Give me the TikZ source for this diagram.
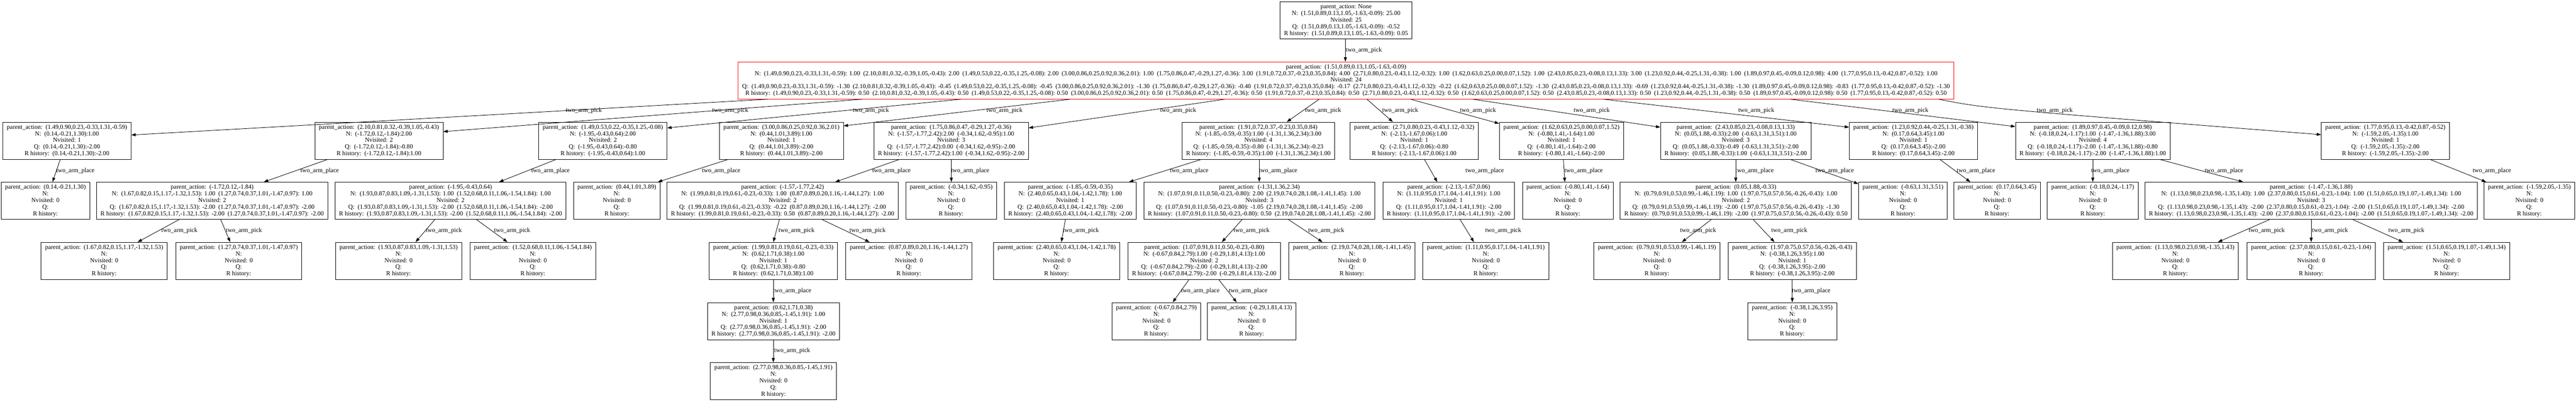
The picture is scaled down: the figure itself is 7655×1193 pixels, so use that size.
\documentclass[tikz,border=0pt]{standalone}
\usepackage{fontspec}
\setmainfont{Liberation Serif}
\usetikzlibrary{arrows.meta}
\newcommand\pa{parent\_action:~~}
\newcommand\emptynode[1]{\pa#1\\N:\\Nvisited: 0\\Q:\\R history:}
\newcommand\pkA{(1.49,0.90,0.23,-0.33,1.31,-0.59)}
\newcommand\pkB{(2.10,0.81,0.32,-0.39,1.05,-0.43)}
\newcommand\pkC{(1.49,0.53,0.22,-0.35,1.25,-0.08)}
\newcommand\pkD{(3.00,0.86,0.25,0.92,0.36,2.01)}
\newcommand\pkE{(1.75,0.86,0.47,-0.29,1.27,-0.36)}
\newcommand\pkF{(1.91,0.72,0.37,-0.23,0.35,0.84)}
\newcommand\pkG{(2.71,0.80,0.23,-0.43,1.12,-0.32)}
\newcommand\pkH{(1.62,0.63,0.25,0.00,0.07,1.52)}
\newcommand\pkI{(2.43,0.85,0.23,-0.08,0.13,1.33)}
\newcommand\pkJ{(1.23,0.92,0.44,-0.25,1.31,-0.38)}
\newcommand\pkK{(1.89,0.97,0.45,-0.09,0.12,0.98)}
\newcommand\pkL{(1.77,0.95,0.13,-0.42,0.87,-0.52)}
\newcommand\rootact{(1.51,0.89,0.13,1.05,-1.63,-0.09)}
\tikzset{
  tn/.style={draw, line width=1.3pt, align=center, font=\fontsize{18.5}{19.75}\selectfont,
    inner xsep=12pt, inner ysep=0pt, minimum height=110.5pt},
  rn/.style={tn, draw=red},
  edge/.style={line width=1.3pt, -{Triangle[length=13pt,width=9pt]}},
  lbl/.style={font=\fontsize{18.5}{19.75}\selectfont, inner sep=0pt},
}
\newcommand\elab[4]{\node[lbl] (#1) at (#2,#3) {two\_arm\_#4};}
\begin{document}
\begin{tikzpicture}[x=1pt,y=-1pt]
\useasboundingbox (0,0) rectangle (7655,1193);

% ---------- level 0 ----------
\node[tn] (R0) at (4000,60.5) {parent\_action: None\\N:~~\rootact: 25.00\\Nvisited: 25\\Q:~~\rootact: -0.52\\R history:~~\rootact: 0.05};

% ---------- level 1 ----------
\node[rn] (L1) at (4000,239) {\pa\rootact\\
N:~~\pkA: 1.00~~\pkB: 2.00~~\pkC: 2.00~~\pkD: 1.00~~\pkE: 3.00~~\pkF: 4.00~~\pkG: 1.00~~\pkH: 1.00~~\pkI: 3.00~~\pkJ: 1.00~~\pkK: 4.00~~\pkL: 1.00\\
Nvisited: 24\\
Q:~~\pkA: -1.30~~\pkB: -0.45~~\pkC: -0.45~~\pkD: -1.30~~\pkE: -0.40~~\pkF: -0.17~~\pkG: -0.22~~\pkH: -1.30~~\pkI: -0.69~~\pkJ: -1.30~~\pkK: -0.83~~\pkL: -1.30\\
R history:~~\pkA: 0.50~~\pkB: 0.50~~\pkC: 0.50~~\pkD: 0.50~~\pkE: 0.50~~\pkF: 0.50~~\pkG: 0.50~~\pkH: 0.50~~\pkI: 0.50~~\pkJ: 0.50~~\pkK: 0.50~~\pkL: 0.50};

% ---------- level 2 ----------
\node[tn] (L2a) at (199,418) {\pa\pkA\\N:~~(0.14,-0.21,1.30):1.00\\Nvisited: 1\\Q:~~(0.14,-0.21,1.30):-2.00\\R history:~~(0.14,-0.21,1.30):-2.00};
\node[tn] (L2b) at (1126,418) {\pa\pkB\\N:~~(-1.72,0.12,-1.84):2.00\\Nvisited: 2\\Q:~~(-1.72,0.12,-1.84):-0.80\\R history:~~(-1.72,0.12,-1.84):1.00};
\node[tn] (L2c) at (1791.5,418) {\pa\pkC\\N:~~(-1.95,-0.43,0.64):2.00\\Nvisited: 2\\Q:~~(-1.95,-0.43,0.64):-0.80\\R history:~~(-1.95,-0.43,0.64):1.00};
\node[tn] (L2d) at (2322,418) {\pa\pkD\\N:~~(0.44,1.01,3.89):1.00\\Nvisited: 1\\Q:~~(0.44,1.01,3.89):-2.00\\R history:~~(0.44,1.01,3.89):-2.00};
\node[tn] (L2e) at (2826.5,418) {\pa\pkE\\N:~~(-1.57,-1.77,2.42):2.00~~(-0.34,1.62,-0.95):1.00\\Nvisited: 3\\Q:~~(-1.57,-1.77,2.42):0.00~~(-0.34,1.62,-0.95):-2.00\\R history:~~(-1.57,-1.77,2.42):1.00~~(-0.34,1.62,-0.95):-2.00};
\node[tn] (L2f) at (3739.5,418) {\pa\pkF\\N:~~(-1.85,-0.59,-0.35):1.00~~(-1.31,1.36,2.34):3.00\\Nvisited: 4\\Q:~~(-1.85,-0.59,-0.35):-0.80~~(-1.31,1.36,2.34):-0.23\\R history:~~(-1.85,-0.59,-0.35):1.00~~(-1.31,1.36,2.34):1.00};
\node[tn] (L2g) at (4202.5,418) {\pa\pkG\\N:~~(-2.13,-1.67,0.06):1.00\\Nvisited: 1\\Q:~~(-2.13,-1.67,0.06):-0.80\\R history:~~(-2.13,-1.67,0.06):1.00};
\node[tn] (L2h) at (4640,418) {\pa\pkH\\N:~~(-0.80,1.41,-1.64):1.00\\Nvisited: 1\\Q:~~(-0.80,1.41,-1.64):-2.00\\R history:~~(-0.80,1.41,-1.64):-2.00};
\node[tn] (L2i) at (5158,418) {\pa\pkI\\N:~~(0.05,1.88,-0.33):2.00~~(-0.63,1.31,3.51):1.00\\Nvisited: 3\\Q:~~(0.05,1.88,-0.33):-0.49~~(-0.63,1.31,3.51):-2.00\\R history:~~(0.05,1.88,-0.33):1.00~~(-0.63,1.31,3.51):-2.00};
\node[tn] (L2j) at (5686,418) {\pa\pkJ\\N:~~(0.17,0.64,3.45):1.00\\Nvisited: 1\\Q:~~(0.17,0.64,3.45):-2.00\\R history:~~(0.17,0.64,3.45):-2.00};
\node[tn] (L2k) at (6219,418) {\pa\pkK\\N:~~(-0.18,0.24,-1.17):1.00~~(-1.47,-1.36,1.88):3.00\\Nvisited: 4\\Q:~~(-0.18,0.24,-1.17):-2.00~~(-1.47,-1.36,1.88):-0.80\\R history:~~(-0.18,0.24,-1.17):-2.00~~(-1.47,-1.36,1.88):1.00};
\node[tn] (L2l) at (7088.5,418) {\pa\pkL\\N:~~(-1.59,2.05,-1.35):1.00\\Nvisited: 1\\Q:~~(-1.59,2.05,-1.35):-2.00\\R history:~~(-1.59,2.05,-1.35):-2.00};

% ---------- level 3 ----------
\node[tn] (L3a) at (135,596.5) {\emptynode{(0.14,-0.21,1.30)}};
\node[tn] (L3b) at (630.5,596.5) {\pa(-1.72,0.12,-1.84)\\N:~~(1.67,0.82,0.15,1.17,-1.32,1.53): 1.00~~(1.27,0.74,0.37,1.01,-1.47,0.97): 1.00\\Nvisited: 2\\Q:~~(1.67,0.82,0.15,1.17,-1.32,1.53): -2.00~~(1.27,0.74,0.37,1.01,-1.47,0.97): -2.00\\R history:~~(1.67,0.82,0.15,1.17,-1.32,1.53): -2.00~~(1.27,0.74,0.37,1.01,-1.47,0.97): -2.00};
\node[tn] (L3c) at (1339,596.5) {\pa(-1.95,-0.43,0.64)\\N:~~(1.93,0.87,0.83,1.09,-1.31,1.53): 1.00~~(1.52,0.68,0.11,1.06,-1.54,1.84): 1.00\\Nvisited: 2\\Q:~~(1.93,0.87,0.83,1.09,-1.31,1.53): -2.00~~(1.52,0.68,0.11,1.06,-1.54,1.84): -2.00\\R history:~~(1.93,0.87,0.83,1.09,-1.31,1.53): -2.00~~(1.52,0.68,0.11,1.06,-1.54,1.84): -2.00};
\node[tn] (L3d) at (1833,596.5) {\emptynode{(0.44,1.01,3.89)}};
\node[tn] (L3e) at (2325.5,596.5) {\pa(-1.57,-1.77,2.42)\\N:~~(1.99,0.81,0.19,0.61,-0.23,-0.33): 1.00~~(0.87,0.89,0.20,1.16,-1.44,1.27): 1.00\\Nvisited: 2\\Q:~~(1.99,0.81,0.19,0.61,-0.23,-0.33): -0.22~~(0.87,0.89,0.20,1.16,-1.44,1.27): -2.00\\R history:~~(1.99,0.81,0.19,0.61,-0.23,-0.33): 0.50~~(0.87,0.89,0.20,1.16,-1.44,1.27): -2.00};
\node[tn] (L3f) at (2826.5,596.5) {\emptynode{(-0.34,1.62,-0.95)}};
\node[tn] (L3g) at (3180.5,596.5) {\pa(-1.85,-0.59,-0.35)\\N:~~(2.40,0.65,0.43,1.04,-1.42,1.78): 1.00\\Nvisited: 1\\Q:~~(2.40,0.65,0.43,1.04,-1.42,1.78): -2.00\\R history:~~(2.40,0.65,0.43,1.04,-1.42,1.78): -2.00};
\node[tn] (L3h) at (3742.5,596.5) {\pa(-1.31,1.36,2.34)\\N:~~(1.07,0.91,0.11,0.50,-0.23,-0.80): 2.00~~(2.19,0.74,0.28,1.08,-1.41,1.45): 1.00\\Nvisited: 3\\Q:~~(1.07,0.91,0.11,0.50,-0.23,-0.80): -1.05~~(2.19,0.74,0.28,1.08,-1.41,1.45): -2.00\\R history:~~(1.07,0.91,0.11,0.50,-0.23,-0.80): 0.50~~(2.19,0.74,0.28,1.08,-1.41,1.45): -2.00};
\node[tn] (L3i) at (4305,596.5) {\pa(-2.13,-1.67,0.06)\\N:~~(1.11,0.95,0.17,1.04,-1.41,1.91): 1.00\\Nvisited: 1\\Q:~~(1.11,0.95,0.17,1.04,-1.41,1.91): -2.00\\R history:~~(1.11,0.95,0.17,1.04,-1.41,1.91): -2.00};
\node[tn] (L3j) at (4659,596.5) {\emptynode{(-0.80,1.41,-1.64)}};
\node[tn] (L3k) at (5158.5,596.5) {\pa(0.05,1.88,-0.33)\\N:~~(0.79,0.91,0.53,0.99,-1.46,1.19): 1.00~~(1.97,0.75,0.57,0.56,-0.26,-0.43): 1.00\\Nvisited: 2\\Q:~~(0.79,0.91,0.53,0.99,-1.46,1.19): -2.00~~(1.97,0.75,0.57,0.56,-0.26,-0.43): -1.30\\R history:~~(0.79,0.91,0.53,0.99,-1.46,1.19): -2.00~~(1.97,0.75,0.57,0.56,-0.26,-0.43): 0.50};
\node[tn] (L3l) at (5655,596.5) {\emptynode{(-0.63,1.31,3.51)}};
\node[tn] (L3m) at (5934.5,596.5) {\emptynode{(0.17,0.64,3.45)}};
\node[tn] (L3n) at (6219,596.5) {\emptynode{(-0.18,0.24,-1.17)}};
\node[tn] (L3o) at (6868,596.5) {\pa(-1.47,-1.36,1.88)\\N:~~(1.13,0.98,0.23,0.98,-1.35,1.43): 1.00~~(2.37,0.80,0.15,0.61,-0.23,-1.04): 1.00~~(1.51,0.65,0.19,1.07,-1.49,1.34): 1.00\\Nvisited: 3\\Q:~~(1.13,0.98,0.23,0.98,-1.35,1.43): -2.00~~(2.37,0.80,0.15,0.61,-0.23,-1.04): -2.00~~(1.51,0.65,0.19,1.07,-1.49,1.34): -2.00\\R history:~~(1.13,0.98,0.23,0.98,-1.35,1.43): -2.00~~(2.37,0.80,0.15,0.61,-0.23,-1.04): -2.00~~(1.51,0.65,0.19,1.07,-1.49,1.34): -2.00};
\node[tn] (L3p) at (7516.5,596.5) {\emptynode{(-1.59,2.05,-1.35)}};

% ---------- level 4 ----------
\node[tn] (L4a) at (309.5,775) {\emptynode{(1.67,0.82,0.15,1.17,-1.32,1.53)}};
\node[tn] (L4b) at (709.5,775) {\emptynode{(1.27,0.74,0.37,1.01,-1.47,0.97)}};
\node[tn] (L4c) at (1184.5,775) {\emptynode{(1.93,0.87,0.83,1.09,-1.31,1.53)}};
\node[tn] (L4d) at (1583.5,775) {\emptynode{(1.52,0.68,0.11,1.06,-1.54,1.84)}};
\node[tn] (L4e) at (2298,775) {\pa(1.99,0.81,0.19,0.61,-0.23,-0.33)\\N:~~(0.62,1.71,0.38):1.00\\Nvisited: 1\\Q:~~(0.62,1.71,0.38):-0.80\\R history:~~(0.62,1.71,0.38):1.00};
\node[tn] (L4f) at (2701,775) {\emptynode{(0.87,0.89,0.20,1.16,-1.44,1.27)}};
\node[tn] (L4g) at (3140,775) {\emptynode{(2.40,0.65,0.43,1.04,-1.42,1.78)}};
\node[tn] (L4h) at (3578.5,775) {\pa(1.07,0.91,0.11,0.50,-0.23,-0.80)\\N:~~(-0.67,0.84,2.79):1.00~~(-0.29,1.81,4.13):1.00\\Nvisited: 2\\Q:~~(-0.67,0.84,2.79):-2.00~~(-0.29,1.81,4.13):-2.00\\R history:~~(-0.67,0.84,2.79):-2.00~~(-0.29,1.81,4.13):-2.00};
\node[tn] (L4i) at (4017.5,775) {\emptynode{(2.19,0.74,0.28,1.08,-1.41,1.45)}};
\node[tn] (L4j) at (4415.5,775) {\emptynode{(1.11,0.95,0.17,1.04,-1.41,1.91)}};
\node[tn] (L4k) at (4924,775) {\emptynode{(0.79,0.91,0.53,0.99,-1.46,1.19)}};
\node[tn] (L4l) at (5326,775) {\pa(1.97,0.75,0.57,0.56,-0.26,-0.43)\\N:~~(-0.38,1.26,3.95):1.00\\Nvisited: 1\\Q:~~(-0.38,1.26,3.95):-2.00\\R history:~~(-0.38,1.26,3.95):-2.00};
\node[tn] (L4m) at (6464.5,775) {\emptynode{(1.13,0.98,0.23,0.98,-1.35,1.43)}};
\node[tn] (L4n) at (6868,775) {\emptynode{(2.37,0.80,0.15,0.61,-0.23,-1.04)}};
\node[tn] (L4o) at (7270.5,775) {\emptynode{(1.51,0.65,0.19,1.07,-1.49,1.34)}};

% ---------- level 5 ----------
\node[tn] (L5a) at (2298.5,954) {\pa(0.62,1.71,0.38)\\N:~~(2.77,0.98,0.36,0.85,-1.45,1.91): 1.00\\Nvisited: 1\\Q:~~(2.77,0.98,0.36,0.85,-1.45,1.91): -2.00\\R history:~~(2.77,0.98,0.36,0.85,-1.45,1.91): -2.00};
\node[tn] (L5b) at (3436.5,954) {\emptynode{(-0.67,0.84,2.79)}};
\node[tn] (L5c) at (3719.5,954) {\emptynode{(-0.29,1.81,4.13)}};
\node[tn] (L5d) at (5326,954) {\emptynode{(-0.38,1.26,3.95)}};

% ---------- level 6 ----------
\node[tn] (L6a) at (2298.5,1132.5) {\emptynode{(2.77,0.98,0.36,0.85,-1.45,1.91)}};

% ---------- edges: root -> level 1 ----------
\draw[edge] (3998,0 |- R0.south) -- (3998,0 |- L1.north);
\elab{e0}{4053}{150}{pick}

% ---------- edges: level 1 -> level 2 ----------
\draw[edge] (2281,0 |- L1.south) -- (L2a.east |- 0,401);
\draw[edge] (2561,0 |- L1.south) -- (L2b.east |- 0,391);
\draw[edge] (2855,0 |- L1.south) -- (L2c.east |- 0,380);
\draw[edge] (3180,0 |- L1.south) -- (L2d.east |- 0,374);
\draw[edge] (3639,0 |- L1.south) -- (L2e.east |- 0,380);
\draw[edge] (3920,0 |- L1.south) -- (3824,0 |- L2f.north);
\draw[edge] (4062,0 |- L1.south) -- (4139,0 |- L2g.north);
\draw[edge] (4192,0 |- L1.south) -- (L2h.west |- 0,367);
\draw[edge] (4377,0 |- L1.south) -- (L2i.west |- 0,378);
\draw[edge] (4766,0 |- L1.south) -- (L2j.west |- 0,378);
\draw[edge] (5321,0 |- L1.south) -- (L2k.west |- 0,376);
\draw[edge] (5761,0 |- L1.south) .. controls (5900,322) .. (L2l.west |- 0,400);
\elab{e1a}{1735}{329}{pick}
\elab{e1b}{2170}{329}{pick}
\elab{e1c}{2588}{329}{pick}
\elab{e1d}{2985}{329}{pick}
\elab{e1e}{3501}{329}{pick}
\elab{e1f}{3932}{329}{pick}
\elab{e1g}{4161}{329}{pick}
\elab{e1h}{4392}{329}{pick}
\elab{e1i}{4730}{329}{pick}
\elab{e1j}{5219}{329}{pick}
\elab{e1k}{5677}{329}{pick}
\elab{e1l}{6106}{329}{pick}

% ---------- edges: level 2 -> level 3 ----------
\draw[edge] (179,0 |- L2a.south) -- (156,0 |- L3a.north);
\draw[edge] (973,0 |- L2b.south) -- (784,0 |- L3b.north);
\draw[edge] (1652,0 |- L2c.south) -- (1483,0 |- L3c.north);
\draw[edge] (2163,0 |- L2d.south) -- (1955,0 |- L3d.north);
\draw[edge] (2672,0 |- L2e.south) -- (2482,0 |- L3e.north);
\draw[edge] (2827,0 |- L2e.south) -- (2827,0 |- L3f.north);
\draw[edge] (3569,0 |- L2f.south) -- (3355,0 |- L3g.north);
\draw[edge] (3742,0 |- L2f.south) -- (3742,0 |- L3h.north);
\draw[edge] (4233,0 |- L2g.south) -- (4271,0 |- L3i.north);
\draw[edge] (4646,0 |- L2h.south) -- (4650,0 |- L3j.north);
\draw[edge] (5158,0 |- L2i.south) -- (5158,0 |- L3k.north);
\draw[edge] (5321,0 |- L2i.south) -- (L3l.west |- 0,546);
\draw[edge] (5765,0 |- L2j.south) -- (5855,0 |- L3m.north);
\draw[edge] (6219,0 |- L2k.south) -- (6219,0 |- L3n.north);
\draw[edge] (6419,0 |- L2k.south) -- (6666,0 |- L3o.north);
\draw[edge] (7222,0 |- L2l.south) -- (7388,0 |- L3p.north);
\elab{e2a}{224}{507}{place}
\elab{e2b}{950}{507}{place}
\elab{e2c}{1636}{507}{place}
\elab{e2d}{2143}{507}{place}
\elab{e2e}{2649}{507}{place}
\elab{e2f}{2883}{507}{place}
\elab{e2g}{3534}{507}{place}
\elab{e2h}{3798}{507}{place}
\elab{e2i}{4412}{507}{place}
\elab{e2j}{4706}{507}{place}
\elab{e2k}{5214}{507}{place}
\elab{e2l}{5452}{507}{place}
\elab{e2m}{5872}{507}{place}
\elab{e2n}{6271}{507}{place}
\elab{e2o}{6609}{507}{place}
\elab{e2p}{7405}{507}{place}

% ---------- edges: level 3 -> level 4 ----------
\draw[edge] (532,0 |- L3b.south) -- (409,0 |- L4a.north);
\draw[edge] (656,0 |- L3b.south) -- (684,0 |- L4b.north);
\draw[edge] (1292,0 |- L3c.south) -- (1235,0 |- L4c.north);
\draw[edge] (1416,0 |- L3c.south) -- (1508,0 |- L4d.north);
\draw[edge] (2316,0 |- L3e.south) -- (2298,0 |- L4e.north);
\draw[edge] (2443,0 |- L3e.south) -- (2584,0 |- L4f.north);
\draw[edge] (3166,0 |- L3g.south) -- (3154,0 |- L4g.north);
\draw[edge] (3691,0 |- L3h.south) -- (3631,0 |- L4h.north);
\draw[edge] (3829,0 |- L3h.south) -- (3930,0 |- L4i.north);
\draw[edge] (4339,0 |- L3i.south) -- (4380,0 |- L4j.north);
\draw[edge] (5085,0 |- L3k.south) -- (4998,0 |- L4k.north);
\draw[edge] (5210,0 |- L3k.south) -- (5273,0 |- L4l.north);
\draw[edge] (6744,0 |- L3o.south) -- (6591,0 |- L4m.north);
\draw[edge] (6868,0 |- L3o.south) -- (6868,0 |- L4n.north);
\draw[edge] (6992,0 |- L3o.south) -- (7141,0 |- L4o.north);
\elab{e3a}{533}{686}{pick}
\elab{e3b}{725}{686}{pick}
\elab{e3c}{1319}{686}{pick}
\elab{e3d}{1522}{686}{pick}
\elab{e3e}{2367}{686}{pick}
\elab{e3f}{2578}{686}{pick}
\elab{e3g}{3212}{686}{pick}
\elab{e3h}{3719}{686}{pick}
\elab{e3i}{3941}{686}{pick}
\elab{e3j}{4467}{686}{pick}
\elab{e3k}{5046}{686}{pick}
\elab{e3l}{5317}{686}{pick}
\elab{e3m}{6736}{686}{pick}
\elab{e3n}{6924}{686}{pick}
\elab{e3o}{7151}{686}{pick}

% ---------- edges: level 4 -> level 5 ----------
\draw[edge] (2298,0 |- L4e.south) -- (2298,0 |- L5a.north);
\draw[edge] (3533,0 |- L4h.south) -- (3485,0 |- L5b.north);
\draw[edge] (3622,0 |- L4h.south) -- (3675,0 |- L5c.north);
\draw[edge] (5326,0 |- L4l.south) -- (5326,0 |- L5d.north);
\elab{e4a}{2354}{864}{place}
\elab{e4b}{3567}{864}{place}
\elab{e4c}{3709}{864}{place}
\elab{e4d}{5382}{864}{place}

% ---------- edges: level 5 -> level 6 ----------
\draw[edge] (2298,0 |- L5a.south) -- (2298,0 |- L6a.north);
\elab{e5a}{2354}{1042}{pick}
\end{tikzpicture}
\end{document}
